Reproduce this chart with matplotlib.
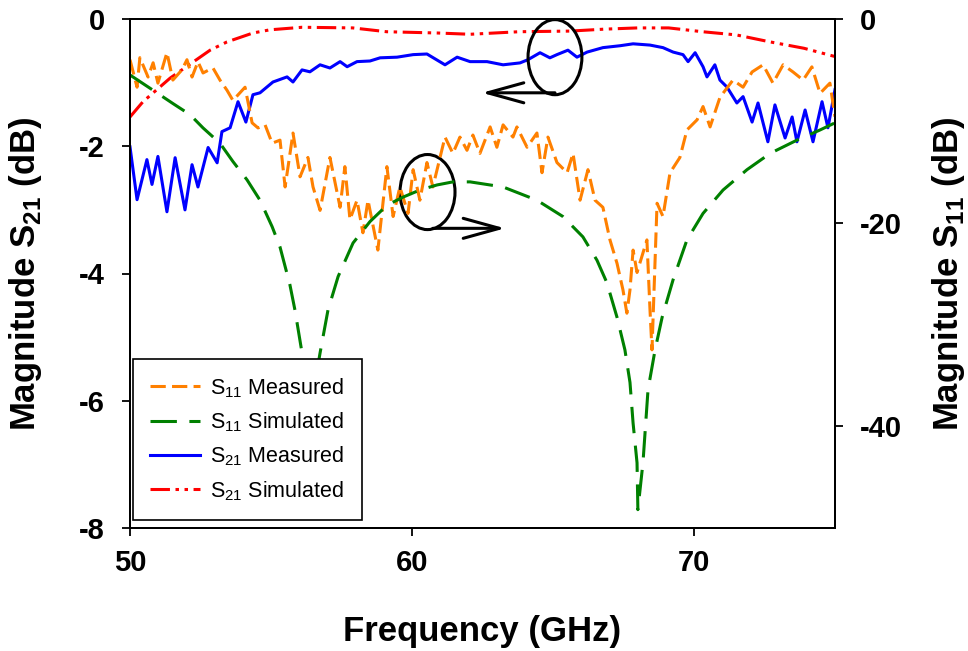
import matplotlib
matplotlib.use('Agg')
import matplotlib.pyplot as plt
from matplotlib.patches import Ellipse

plt.rcParams['font.family'] = ['Liberation Sans', 'DejaVu Sans']
plt.rcParams['font.weight'] = 'bold'
plt.rcParams['mathtext.fontset'] = 'custom'
plt.rcParams['mathtext.rm'] = 'Liberation Sans'
plt.rcParams['mathtext.bf'] = 'Liberation Sans:bold'
plt.rcParams['axes.unicode_minus'] = False
plt.rcParams['lines.scale_dashes'] = False

# ---------------- data ----------------
s21_meas_f = [50.00, 50.25, 50.60, 50.78, 50.99, 51.31, 51.60, 51.95, 52.20, 52.41,
              52.77, 53.09, 53.26, 53.55, 53.83, 54.11, 54.36, 54.61, 55.07, 55.57,
              55.78, 56.10, 56.38, 56.74, 57.09, 57.45, 57.70, 58.05, 58.51, 58.87,
              59.47, 60.04, 60.53, 61.17, 61.60, 62.06, 62.66, 63.23, 63.83, 64.11,
              64.54, 64.89, 65.14, 65.53, 65.85, 66.21, 66.77, 67.38, 67.84, 68.44,
              68.90, 69.26, 69.61, 69.79, 70.04, 70.32, 70.46, 70.74, 70.92, 71.17,
              71.52, 71.74, 72.06, 72.27, 72.62, 72.87, 73.23, 73.48, 73.65, 73.94,
              74.22, 74.54, 74.75, 75.00]
s21_meas = [-2.01, -2.84, -2.21, -2.60, -2.16, -3.03, -2.18, -3.00, -2.29, -2.64,
            -2.02, -2.26, -1.77, -1.71, -1.30, -1.62, -1.19, -1.16, -0.99, -0.91,
            -0.99, -0.80, -0.83, -0.72, -0.77, -0.67, -0.75, -0.67, -0.66, -0.61,
            -0.60, -0.56, -0.55, -0.72, -0.60, -0.67, -0.67, -0.72, -0.69, -0.64,
            -0.53, -0.61, -0.56, -0.49, -0.60, -0.52, -0.45, -0.42, -0.39, -0.41,
            -0.45, -0.52, -0.56, -0.67, -0.53, -0.75, -0.91, -0.72, -0.96, -1.07,
            -1.32, -1.22, -1.62, -1.32, -1.93, -1.35, -1.87, -1.54, -1.93, -1.43,
            -1.93, -1.30, -1.71, -1.11]

s21_sim_f = [50.0, 50.46, 51.42, 52.0, 52.84, 53.44, 54.36, 54.96, 56.1, 57.9,
             59.1, 60.9, 62.06, 63.8, 65.6, 66.8, 68.0, 69.1, 70.3, 71.5,
             72.7, 73.9, 75.0]
s21_sim = [-1.54, -1.30, -0.93, -0.75, -0.49, -0.36, -0.22, -0.17, -0.13, -0.14,
           -0.20, -0.22, -0.24, -0.20, -0.19, -0.16, -0.14, -0.14, -0.20, -0.25,
           -0.36, -0.46, -0.59]

s11_sim_f = [50.00, 50.71, 51.52, 52.13, 52.59, 53.19, 53.65, 54.15, 54.61, 55.04,
             55.32, 55.67, 55.85, 56.10, 56.42, 56.74, 57.02, 57.38, 57.91, 58.51,
             59.11, 59.68, 60.28, 60.89, 61.45, 62.06, 63.23, 64.43, 65.35, 66.06,
             66.56, 66.91, 67.27, 67.55, 67.73, 67.84, 67.98, 68.01, 68.19, 68.37,
             68.62, 68.87, 69.26, 69.75, 70.32, 71.03, 71.88, 72.70, 73.65, 74.47,
             75.00]
s11_sim = [-5.5, -6.8, -8.3, -9.4, -10.7, -12.2, -14.0, -15.8, -17.8, -20.4,
           -22.4, -26.1, -28.6, -32.8, -38.0, -32.8, -28.6, -25.3, -22.0, -19.9,
           -18.3, -17.5, -16.8, -16.3, -16.0, -16.0, -16.5, -17.8, -19.4, -21.4,
           -23.7, -25.9, -29.3, -32.5, -35.7, -39.7, -43.6, -48.2, -43.6, -36.4,
           -32.5, -29.3, -25.6, -21.7, -19.1, -16.8, -14.8, -13.2, -11.9, -10.9,
           -10.2]

s11_meas_f = [50.00, 50.25, 50.35, 50.64, 50.82, 50.99, 51.31, 51.52, 51.84, 52.02,
              52.20, 52.41, 52.59, 52.94, 53.19, 53.44, 53.65, 54.08, 54.33, 54.54,
              54.79, 55.04, 55.32, 55.50, 55.78, 56.03, 56.31, 56.49, 56.74, 57.09,
              57.45, 57.62, 57.80, 58.05, 58.26, 58.44, 58.79, 59.11, 59.33, 59.57,
              59.86, 60.04, 60.28, 60.53, 60.74, 61.17, 61.45, 61.70, 61.95, 62.16,
              62.41, 62.77, 63.01, 63.23, 63.58, 63.72, 64.08, 64.43, 64.61, 64.82,
              65.14, 65.50, 65.71, 65.96, 66.24, 66.49, 66.77, 67.02, 67.27, 67.48,
              67.62, 67.73, 67.84, 67.98, 68.33, 68.44, 68.51, 68.69, 68.90, 69.15,
              69.50, 69.75, 70.11, 70.32, 70.57, 70.92, 71.38, 71.74, 72.06, 72.45,
              72.80, 73.16, 73.51, 73.87, 74.18, 74.47, 74.82, 75.00]
s11_meas = [-4.0, -6.7, -3.8, -5.7, -4.3, -6.3, -3.3, -6.0, -5.0, -4.0,
            -5.7, -4.2, -5.3, -4.8, -6.0, -7.0, -8.0, -6.7, -10.2, -10.7,
            -10.4, -12.2, -11.9, -16.5, -11.2, -15.5, -13.6, -16.5, -18.8, -13.6,
            -18.5, -14.5, -19.7, -17.8, -21.0, -17.8, -22.7, -14.5, -19.4, -16.5,
            -19.1, -14.8, -17.8, -14.1, -16.5, -11.6, -13.2, -11.6, -12.9, -11.4,
            -13.2, -10.6, -12.6, -10.4, -11.6, -10.6, -12.6, -11.2, -15.1, -11.6,
            -14.1, -15.1, -13.2, -17.8, -14.8, -17.8, -18.5, -21.7, -24.0, -26.6,
            -28.9, -26.6, -22.7, -24.9, -21.7, -28.6, -32.5, -18.1, -19.4, -15.1,
            -13.6, -10.9, -9.9, -8.6, -10.6, -7.7, -6.0, -6.7, -5.2, -4.5,
            -6.3, -4.5, -5.2, -6.0, -4.7, -7.3, -6.3, -9.6]

x_ticks = [50, 60, 70]
left_ticks = [-8, -6, -4, -2, 0]
right_ticks = [-40, -20, 0]
labels = ['S$_{\\mathregular{11}}$ Measured', 'S$_{\\mathregular{11}}$ Simulated',
          'S$_{\\mathregular{21}}$ Measured', 'S$_{\\mathregular{21}}$ Simulated']

# ---------------- figure ----------------
fig = plt.figure(figsize=(9.68, 6.51), dpi=100)
ax = fig.add_axes([130 / 968, 1 - 528 / 651, 705 / 968, 509 / 651])
ax2 = ax.twinx()

lw = 2.2
l_s21m, = ax.plot(s21_meas_f, s21_meas, color='#0000FF', lw=lw, label=labels[2])
l_s21s, = ax.plot(s21_sim_f, s21_sim, color='#FF0000', lw=lw,
                  ls=(0, (14, 4, 2.5, 4, 2.5, 4)), label=labels[3])
l_s11m, = ax2.plot(s11_meas_f, s11_meas, color='#FF8000', lw=lw,
                   ls=(0, (11, 4.5)), label=labels[0])
l_s11s, = ax2.plot(s11_sim_f, s11_sim, color='#008000', lw=lw,
                   ls=(0, (19, 9)), label=labels[1])

ax.set_xlim(50, 75)
ax.set_ylim(-8, 0)
ax2.set_ylim(-50, 0)
ax.set_xticks(x_ticks)
ax.set_yticks(left_ticks)
ax2.set_yticks(right_ticks)

for a in (ax, ax2):
    for s in a.spines.values():
        s.set_linewidth(1.4)
ax.tick_params(axis='x', direction='out', length=6, width=1.3, labelsize=21, pad=9)
ax.tick_params(axis='y', direction='out', length=6, width=1.3, labelsize=21, pad=12)
ax2.tick_params(axis='y', direction='out', length=6, width=1.3, labelsize=21, pad=12)

ax.set_xlabel('Frequency (GHz)', fontsize=25, fontweight='bold')
ax.xaxis.set_label_coords(0.5, -0.17)
ax.set_ylabel('Magnitude S$_{\\mathregular{21}}$ (dB)', fontsize=25, fontweight='bold')
ax.yaxis.set_label_coords(-0.122, 0.5)
ax2.set_ylabel('Magnitude S$_{\\mathregular{11}}$ (dB)', fontsize=25, fontweight='bold')
ax2.yaxis.set_label_coords(1.135, 0.5)

# annotations (circles with arrows)
ax.add_patch(Ellipse((60.55, -2.72), 1.95, 1.18, fill=False, ec='black', lw=lw, zorder=4))
ax.add_patch(Ellipse((65.07, -0.60), 1.91, 1.18, fill=False, ec='black', lw=lw, zorder=4))
ax.annotate('', xy=(63.30, -3.29), xytext=(60.74, -3.29),
            arrowprops=dict(arrowstyle='->,head_length=1.3,head_width=0.36',
                            lw=lw, color='black', shrinkA=0, shrinkB=0, mutation_scale=20))
ax.annotate('', xy=(62.48, -1.16), xytext=(65.07, -1.16),
            arrowprops=dict(arrowstyle='->,head_length=1.3,head_width=0.36',
                            lw=lw, color='black', shrinkA=0, shrinkB=0, mutation_scale=20))

leg = ax2.legend(handles=[l_s11m, l_s11s, l_s21m, l_s21s], loc='lower left',
                 bbox_to_anchor=(0.004, 0.016), borderaxespad=0,
                 prop={'weight': 'normal', 'size': 15.5}, frameon=True, fancybox=False,
                 edgecolor='black', framealpha=1, handlelength=2.3, handletextpad=0.5,
                 labelspacing=0.5, borderpad=0.8)
leg.get_frame().set_linewidth(1.2)

fig.savefig('out.png', dpi=100, facecolor='white')
